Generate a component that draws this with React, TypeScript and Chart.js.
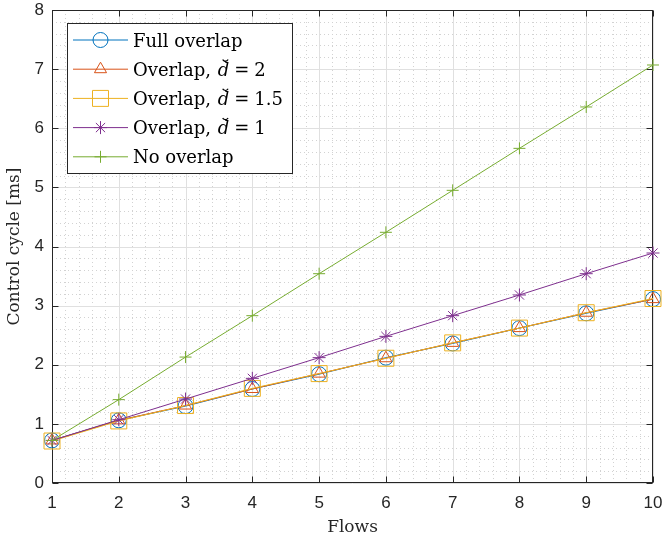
import React, { useEffect, useRef } from "react";
import { Chart, registerables } from "chart.js";

Chart.register(...registerables);

// ---------- data ----------
const flows = [1, 2, 3, 4, 5, 6, 7, 8, 9, 10];
const fullOverlap = [0.72, 1.06, 1.3, 1.59, 1.84, 2.12, 2.36, 2.62, 2.87, 3.11];
const overlapD2 = [0.72, 1.06, 1.31, 1.59, 1.85, 2.11, 2.37, 2.62, 2.88, 3.11];
const overlapD15 = [0.71, 1.05, 1.31, 1.6, 1.85, 2.11, 2.37, 2.62, 2.88, 3.12];
const overlapD1 = [0.72, 1.07, 1.42, 1.77, 2.12, 2.48, 2.83, 3.18, 3.54, 3.89];
const noOverlap = [0.72, 1.41, 2.13, 2.83, 3.54, 4.24, 4.95, 5.66, 6.36, 7.07];

const seriesNames = ["Full overlap", "Overlap", "Overlap", "Overlap", "No overlap"];
const dValues: (string | null)[] = [null, "2", "1.5", "1", null];
const xTicks = [1, 2, 3, 4, 5, 6, 7, 8, 9, 10];
const yTicks = [0, 1, 2, 3, 4, 5, 6, 7, 8];
const xTitle = "Flows";
const yTitle = "Control cycle [ms]";

const seriesValues = [fullOverlap, overlapD2, overlapD15, overlapD1, noOverlap];
const colors = ["#0072BD", "#D95319", "#EDB120", "#7E2F8E", "#77AC30"];
const pointStyles = ["circle", "triangle", "rect", "star", "cross"];
const pointRadii = [7.5, 7, 11.3, 6.5, 6];

const AXIS = "#262626";
const SERIF = '"DejaVu Serif", serif';
const SANS = '"Liberation Sans", Arial, sans-serif';
const ZERO_PAD = () => ({ left: 0, top: 0, right: 0, bottom: 0 });

function drawMarker(ctx: CanvasRenderingContext2D, style: string, x: number, y: number, r: number, color: string) {
  ctx.save();
  ctx.strokeStyle = color;
  ctx.lineWidth = 1;
  ctx.setLineDash([]);
  ctx.beginPath();
  if (style === "circle") {
    ctx.arc(x, y, r, 0, Math.PI * 2);
  } else if (style === "triangle") {
    let rad = 0;
    ctx.moveTo(x + Math.sin(rad) * r, y - Math.cos(rad) * r);
    rad += (2 * Math.PI) / 3;
    ctx.lineTo(x + Math.sin(rad) * r, y - Math.cos(rad) * r);
    rad += (2 * Math.PI) / 3;
    ctx.lineTo(x + Math.sin(rad) * r, y - Math.cos(rad) * r);
    ctx.closePath();
  } else if (style === "rect") {
    const s = r * Math.SQRT1_2;
    ctx.rect(x - s, y - s, 2 * s, 2 * s);
  } else if (style === "star") {
    for (let k = 0; k < 4; k++) {
      const a = (k * Math.PI) / 4;
      ctx.moveTo(x + Math.cos(a) * r, y + Math.sin(a) * r);
      ctx.lineTo(x - Math.cos(a) * r, y - Math.sin(a) * r);
    }
  } else if (style === "cross") {
    ctx.moveTo(x - r, y);
    ctx.lineTo(x + r, y);
    ctx.moveTo(x, y - r);
    ctx.lineTo(x, y + r);
  }
  ctx.stroke();
  ctx.restore();
}

const matlabPlugin = {
  id: "matlabAxes",
  beforeDatasetsDraw(chart: any) {
    const { ctx, chartArea: a, scales } = chart;
    const xs = scales.x;
    const ys = scales.y;
    ctx.save();
    ctx.lineWidth = 1;
    // minor grid (dotted)
    ctx.strokeStyle = "#d2d2d2";
    ctx.setLineDash([1, 3]);
    ctx.beginPath();
    for (let i = 0; i < (xTicks.length - 1) * 5; i++) {
      if (i % 5 === 0) continue;
      const px = Math.round(xs.getPixelForValue(xTicks[0] + i / 5)) + 0.5;
      ctx.moveTo(px, a.top);
      ctx.lineTo(px, a.bottom);
    }
    for (let i = 0; i < (yTicks.length - 1) * 5; i++) {
      if (i % 5 === 0) continue;
      const py = Math.round(ys.getPixelForValue(yTicks[0] + i / 5)) + 0.5;
      ctx.moveTo(a.left, py);
      ctx.lineTo(a.right, py);
    }
    ctx.stroke();
    // major grid
    ctx.setLineDash([]);
    ctx.strokeStyle = "#e0e0e0";
    ctx.beginPath();
    xTicks.forEach((v) => {
      const px = Math.round(xs.getPixelForValue(v)) + 0.5;
      ctx.moveTo(px, a.top);
      ctx.lineTo(px, a.bottom);
    });
    yTicks.forEach((v) => {
      const py = Math.round(ys.getPixelForValue(v)) + 0.5;
      ctx.moveTo(a.left, py);
      ctx.lineTo(a.right, py);
    });
    ctx.stroke();
    // box + inward ticks
    ctx.strokeStyle = AXIS;
    const L = Math.round(a.left) + 0.5;
    const R = Math.round(a.right) - 0.5;
    const T = Math.round(a.top) + 0.5;
    const B = Math.round(a.bottom) - 0.5;
    ctx.strokeRect(L, T, R - L, B - T);
    ctx.beginPath();
    const tl = 6;
    xTicks.forEach((v) => {
      const px = Math.round(xs.getPixelForValue(v)) + 0.5;
      ctx.moveTo(px, B);
      ctx.lineTo(px, B - tl);
      ctx.moveTo(px, T);
      ctx.lineTo(px, T + tl);
    });
    yTicks.forEach((v) => {
      const py = Math.round(ys.getPixelForValue(v)) + 0.5;
      ctx.moveTo(L, py);
      ctx.lineTo(L + tl, py);
      ctx.moveTo(R, py);
      ctx.lineTo(R - tl, py);
    });
    ctx.stroke();
    ctx.restore();
  },
  afterDatasetsDraw(chart: any) {
    const { ctx } = chart;
    ctx.save();
    const bx = 67.5, by = 23.5, bw = 225, bh = 150;
    ctx.fillStyle = "#ffffff";
    ctx.fillRect(bx, by, bw, bh);
    ctx.strokeStyle = AXIS;
    ctx.lineWidth = 1;
    ctx.strokeRect(bx, by, bw, bh);
    const rowH = 29.2;
    seriesNames.forEach((name, i) => {
      const cy = 40 + i * rowH;
      ctx.strokeStyle = colors[i];
      ctx.lineWidth = 1;
      ctx.beginPath();
      ctx.moveTo(73, cy);
      ctx.lineTo(128, cy);
      ctx.stroke();
      drawMarker(ctx, pointStyles[i], 100.5, cy, pointRadii[i], colors[i]);
      ctx.fillStyle = "#000";
      ctx.textBaseline = "alphabetic";
      ctx.textAlign = "left";
      const base = cy + 6.5;
      let tx = 133;
      const d = dValues[i];
      if (d === null) {
        ctx.font = `18px ${SERIF}`;
        ctx.fillText(name, tx, base);
      } else {
        ctx.font = `18px ${SERIF}`;
        const pre = name + ", ";
        ctx.fillText(pre, tx, base);
        tx += ctx.measureText(pre).width + 1;
        ctx.font = `italic 18px ${SERIF}`;
        ctx.fillText("d", tx, base);
        const dw = ctx.measureText("d").width;
        // breve
        ctx.strokeStyle = "#000";
        ctx.lineWidth = 1.2;
        ctx.beginPath();
        const bcx = tx + dw / 2 + 2;
        const bcy = base - 17.5;
        ctx.arc(bcx, bcy, 3, 0.15 * Math.PI, 0.85 * Math.PI);
        ctx.stroke();
        tx += dw + 5;
        ctx.font = `18px ${SERIF}`;
        ctx.fillText("=", tx, base);
        tx += ctx.measureText("=").width + 5;
        ctx.fillText(d, tx, base);
      }
    });
    ctx.restore();
  },
};

export default function App() {
  const ref = useRef<HTMLCanvasElement | null>(null);
  useEffect(() => {
    document.body.style.margin = "0";
    const canvas = ref.current;
    if (!canvas) return;
    const datasets = seriesValues.map((vals, i) => ({
      label: dValues[i] ? `${seriesNames[i]}, d̆ = ${dValues[i]}` : seriesNames[i],
      data: flows.map((f, k) => ({ x: f, y: vals[k] })),
      borderColor: colors[i],
      backgroundColor: "rgba(0,0,0,0)",
      pointBackgroundColor: "rgba(0,0,0,0)",
      pointBorderColor: colors[i],
      pointBorderWidth: 1,
      borderWidth: 1,
      pointStyle: pointStyles[i] as any,
      pointRadius: pointRadii[i],
      tension: 0,
      clip: false as any,
      order: seriesValues.length - i,
    }));
    const chart = new Chart(canvas, {
      type: "line",
      data: { datasets },
      options: {
        animation: false,
        responsive: false,
        maintainAspectRatio: false,
        layout: { autoPadding: false, padding: { top: 10, right: 9, left: 0, bottom: 0 } },
        plugins: { legend: { display: false }, tooltip: { enabled: false } },
        scales: {
          x: {
            type: "linear",
            min: 1,
            max: 10,
            afterBuildTicks: (s: any) => {
              s.ticks = xTicks.map((v) => ({ value: v }));
            },
            afterFit: (s: any) => {
              s.height = 56;
              s.paddingLeft = 0;
              s.paddingRight = 0;
              s.paddingTop = 0;
              s.paddingBottom = 0;
              s.getPadding = ZERO_PAD;
            },
            grid: { display: false, drawTicks: false },
            border: { display: false },
            ticks: {
              color: AXIS,
              font: { family: SANS, size: 17 },
              padding: 10,
              maxRotation: 0,
              autoSkip: false,
            },
            title: {
              display: true,
              text: xTitle,
              color: AXIS,
              font: { family: SERIF, size: 17 },
              padding: { top: 0, bottom: 1 },
            },
          },
          y: {
            type: "linear",
            min: 0,
            max: 8,
            afterBuildTicks: (s: any) => {
              s.ticks = yTicks.map((v) => ({ value: v }));
            },
            afterFit: (s: any) => {
              s.width = 52;
              s.paddingLeft = 0;
              s.paddingRight = 0;
              s.paddingTop = 0;
              s.paddingBottom = 0;
              s.getPadding = ZERO_PAD;
            },
            grid: { display: false, drawTicks: false },
            border: { display: false },
            ticks: {
              color: AXIS,
              font: { family: SANS, size: 17 },
              padding: 8,
              autoSkip: false,
            },
            title: {
              display: true,
              text: yTitle,
              color: AXIS,
              font: { family: SERIF, size: 17 },
              padding: { top: 4, bottom: 0 },
            },
          },
        },
      },
      plugins: [matlabPlugin],
    });
    return () => chart.destroy();
  }, []);
  return <canvas ref={ref} width={662} height={539} style={{ display: "block" }} />;
}
